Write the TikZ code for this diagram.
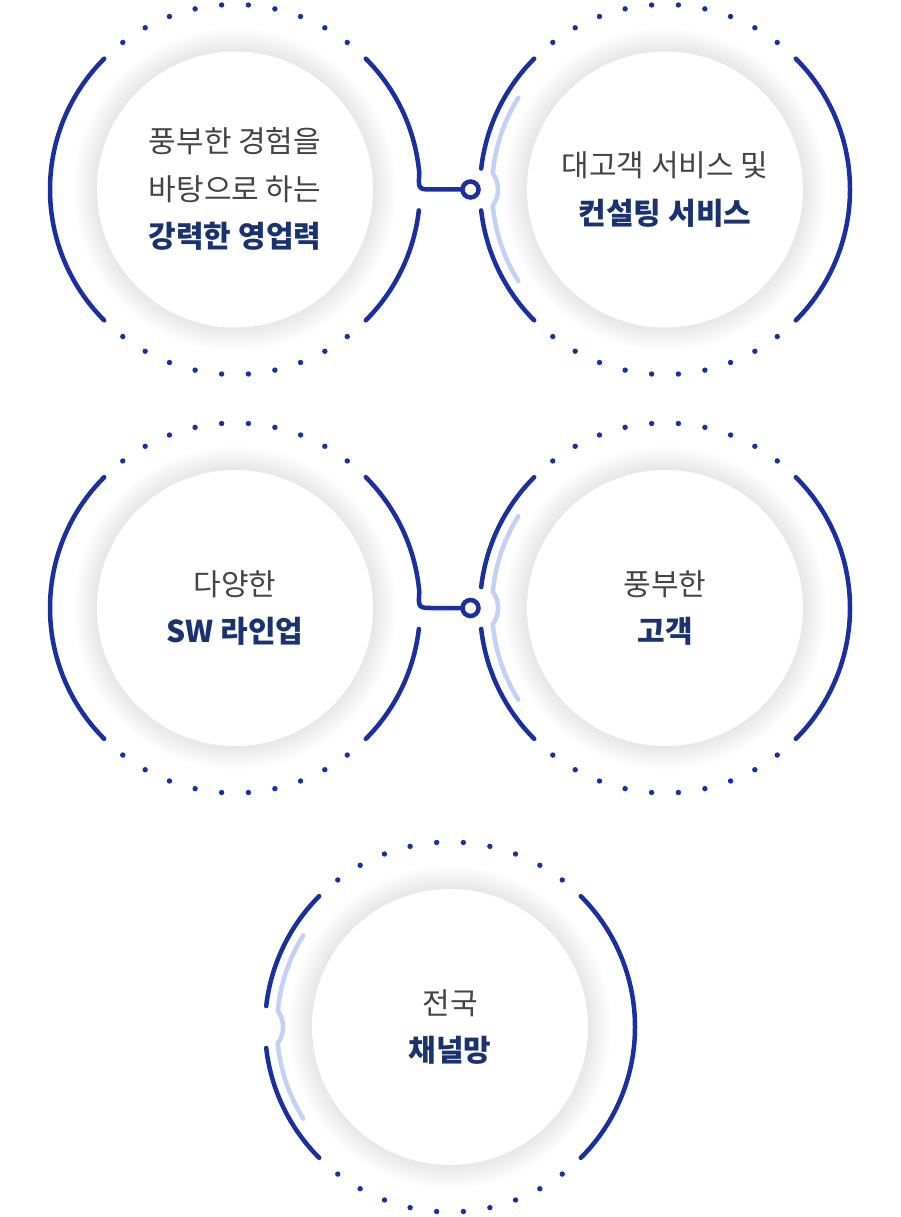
\documentclass[tikz,border=0pt]{standalone}
\usepackage{fontspec}
\newfontfamily\kr{Noto Sans CJK KR}
\usetikzlibrary{calc}
\definecolor{ring}{HTML}{1A2FA0}
\definecolor{lite}{HTML}{C2D0F6}
\definecolor{txtgray}{HTML}{444444}
\definecolor{txtnavy}{HTML}{1B3270}
\tikzset{
  arcline/.style={draw=ring, line width=4.5pt, line cap=round},
  litearc/.style={draw=lite, line width=4.5pt, line cap=round},
  smallring/.style={circle, draw=ring, line width=4.5pt, fill=white, minimum size=16pt, inner sep=0pt},
  lbl/.style={align=center, font=\kr\fontsize{30}{47.5}\selectfont, text=txtgray, inner sep=0pt},
  ringbase/.pic={
    \foreach \r in {139,...,162} \fill[black, opacity=0.003] (0,0) circle (\r);
    \fill[white] (0,0) circle (138);
    \foreach \k in {-5,...,4} {
      \fill[ring] ({90+8.3*(\k+0.5)}:185) circle (2.7);
      \fill[ring] ({270+8.3*(\k+0.5)}:185) circle (2.7);
    }
  },
  leftfull/.pic={
    \draw[arcline] (135:185) arc[start angle=135, end angle=225, radius=185];
  },
  rightfull/.pic={
    \draw[arcline] (45:185) arc[start angle=45, end angle=-45, radius=185];
  },
  leftgap/.pic={
    \draw[arcline] (135:185) arc[start angle=135, end angle=173.5, radius=185];
    \draw[arcline] (186.5:185) arc[start angle=186.5, end angle=225, radius=185];
    \draw[litearc] (148:173) arc[start angle=148, end angle=174.63, radius=173]
      arc[start angle=36.04, end angle=-36.04, radius=27.5]
      arc[start angle=185.37, end angle=212, radius=173];
  },
  rightlow/.pic={
    \draw[arcline] (-6.5:185) arc[start angle=-6.5, end angle=-45, radius=185];
  }
}
\begin{document}
\begin{tikzpicture}[x=1pt,y=1pt]
\useasboundingbox (0,0) rectangle (900,-1217);
\fill[white] (0,0) rectangle (900,-1217);

% centres
\coordinate (c1) at (235,-189.5);
\coordinate (c2) at (665,-189.5);
\coordinate (c3) at (235,-608);
\coordinate (c4) at (665,-608);
\coordinate (c5) at (450,-1027);

\pic at (c1) {ringbase};
\pic at (c2) {ringbase};
\pic at (c3) {ringbase};
\pic at (c4) {ringbase};
\pic at (c5) {ringbase};

\pic at (c1) {leftfull};
\pic at (c1) {rightlow};
\pic at (c2) {leftgap};
\pic at (c2) {rightfull};
\pic at (c3) {leftfull};
\pic at (c3) {rightlow};
\pic at (c4) {leftgap};
\pic at (c4) {rightfull};
\pic at (c5) {leftgap};
\pic at (c5) {rightfull};

% connectors
\node[smallring] (s1) at ($(c2)+(-194.5,0)$) {};
\node[smallring] (s2) at ($(c4)+(-194.5,0)$) {};
\draw[arcline] ($(c1)+(45:185)$) arc[start angle=45, end angle=5, radius=185]
  .. controls ($(c1)+(183.3,0)$) .. ($(c1)+(199,0)$) -- (s1.west);
\draw[arcline] ($(c3)+(45:185)$) arc[start angle=45, end angle=5, radius=185]
  .. controls ($(c3)+(183.3,0)$) .. ($(c3)+(199,0)$) -- (s2.west);

% labels
\node[lbl] (t1) at ($(c1)+(0,0.5)$) {풍부한 경험을\\바탕으로 하는\\\textcolor{txtnavy}{\bfseries 강력한 영업력}};
\node[lbl] (t2) at ($(c2)+(0,0)$) {대고객 서비스 및\\\textcolor{txtnavy}{\bfseries 컨설팅 서비스}};
\node[lbl] (t3) at ($(c3)+(0,0)$) {다양한\\\textcolor{txtnavy}{\bfseries SW 라인업}};
\node[lbl] (t4) at ($(c4)+(0,0)$) {풍부한\\\textcolor{txtnavy}{\bfseries 고객}};
\node[lbl] (t5) at ($(c5)+(0,0)$) {전국\\\textcolor{txtnavy}{\bfseries 채널망}};
\end{tikzpicture}
\end{document}
